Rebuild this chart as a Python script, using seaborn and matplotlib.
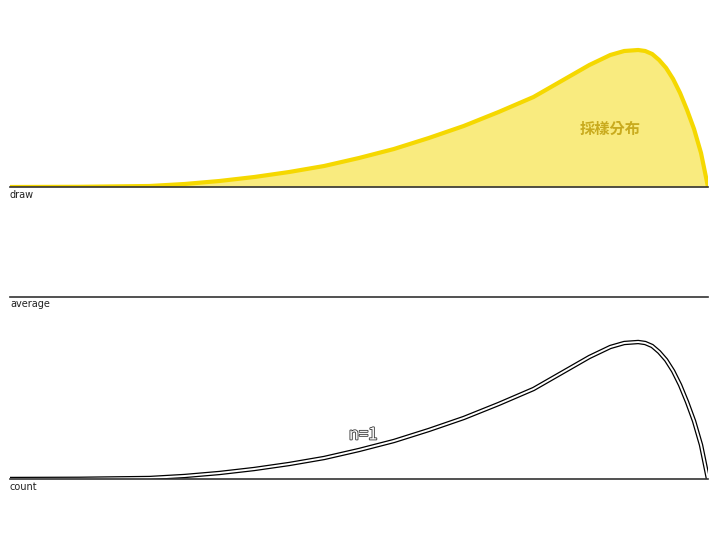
import matplotlib
matplotlib.use("Agg")
import matplotlib.pyplot as plt
import matplotlib.patheffects as pe
import seaborn as sns
import pandas as pd

sns.set_theme(style="white")
plt.rcParams['font.family'] = ['Noto Sans CJK TC', 'DejaVu Sans']

# density shape (x in 0..1, height in px above baseline)
xs = [0.0, 0.1, 0.2, 0.25, 0.3, 0.35, 0.4, 0.45, 0.5, 0.55, 0.6, 0.65, 0.7,
      0.75, 0.8, 0.83, 0.86, 0.88, 0.9, 0.91, 0.92, 0.93, 0.94, 0.95, 0.96,
      0.97, 0.98, 0.99, 1.0]
ys = [0, 0.2, 1, 3, 6, 10, 15, 21, 29, 38, 49, 61, 75,
      90, 110, 122, 132, 136, 137, 136, 133, 127, 119, 108, 94,
      77, 58, 34, 0]
df = pd.DataFrame({"x": xs, "y": ys})
labels = ["draw", "average", "count"]

fig = plt.figure(figsize=(7.2, 5.4), dpi=100)
L, W = 10 / 720, 698 / 720
ax_top = fig.add_axes([L, 1 - 187 / 540, W, 150 / 540])
ax_mid = fig.add_axes([L, 1 - 297 / 540, W, 80 / 540])
ax_bot = fig.add_axes([L, 1 - 479 / 540, W, 150 / 540])

for ax, lab in zip([ax_top, ax_mid, ax_bot], labels):
    for s in ["top", "left", "right"]:
        ax.spines[s].set_visible(False)
    ax.spines["bottom"].set_color("#333333")
    ax.spines["bottom"].set_linewidth(1.2)
    ax.text(0, -3, lab, fontsize=7, va="top", ha="left", color="#222222",
            family="DejaVu Sans")

ax_top.fill_between(df["x"], df["y"], color="#f9eb7f", lw=0)
sns.lineplot(data=df, x="x", y="y", ax=ax_top, color="#f5d800", lw=3, sort=False)
ax_top.text(0.86, 58, "採樣分布", fontsize=11, fontweight="bold", color="#c9ab1e",
            ha="center", va="center")

ax_bot.fill_between(df["x"], df["y"], color="white", lw=0)
sns.lineplot(data=df, x="x", y="y", ax=ax_bot, color="black", lw=3.2, sort=False)
sns.lineplot(data=df, x="x", y="y", ax=ax_bot, color="white", lw=1.4, sort=False)
ax_bot.text(0.506, 44, "n=1", fontsize=12, color="white", ha="center", va="center",
            path_effects=[pe.withStroke(linewidth=1.2, foreground="#333333")])

for ax in [ax_top, ax_mid, ax_bot]:
    ax.set_xlabel("")
    ax.set_ylabel("")
    ax.set_xticks([])
    ax.set_yticks([])
    ax.set_xlim(0, 1)
    ax.set_ylim(0, 150)

fig.savefig("out.png", dpi=100)
